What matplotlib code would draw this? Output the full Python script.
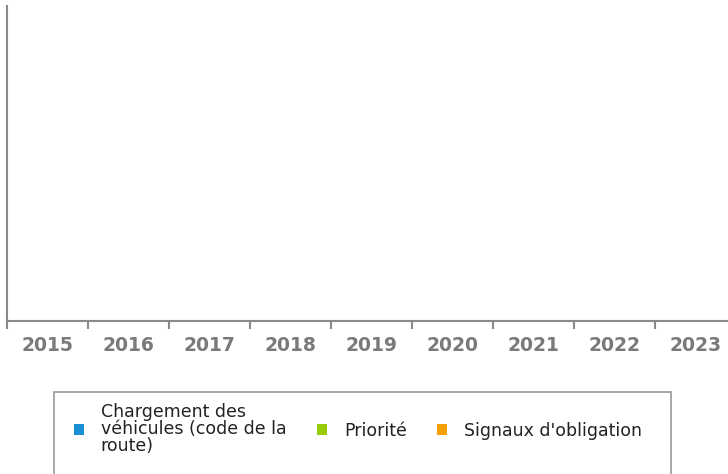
import matplotlib
matplotlib.use('Agg')
import matplotlib.pyplot as plt
from matplotlib.patches import Rectangle
import numpy as np

plt.rcParams['font.family'] = ['DejaVu Sans']

years = ['2015', '2016', '2017', '2018', '2019', '2020', '2021', '2022', '2023']
series_names = ['Chargement des\nvéhicules (code de la\nroute)', 'Priorité', "Signaux d'obligation"]
series_colors = ['#1a8fd6', '#99cc00', '#f5a000']
# no data recorded for any year
chargement = [0, 0, 0, 0, 0, 0, 0, 0, 0]
priorite = [0, 0, 0, 0, 0, 0, 0, 0, 0]
signaux = [0, 0, 0, 0, 0, 0, 0, 0, 0]

W, H = 728, 474
fig = plt.figure(figsize=(W / 100, H / 100), dpi=100)
ax = fig.add_axes([7 / W, 1 - 321 / H, (736 - 7) / W, (321 - 6) / H])

x = np.arange(len(years))
bottom = np.zeros(len(years))
handles = []
for vals, name, col in zip([chargement, priorite, signaux], series_names, series_colors):
    b = ax.bar(x, vals, bottom=bottom, width=0.6, color=col, label=name, linewidth=0)
    bottom += np.array(vals)
    handles.append(b)

ax.set_xlim(-0.5, len(years) - 0.5)
ax.set_ylim(0, 1)
ax.set_yticks([])

spine_col = '#8a8a8a'
for s in ['top', 'right']:
    ax.spines[s].set_visible(False)
for s in ['left', 'bottom']:
    ax.spines[s].set_color(spine_col)
    ax.spines[s].set_linewidth(1.5)

# ticks at category boundaries, labels centred in each band
ax.set_xticks(np.arange(len(years) + 1) - 0.5)
ax.set_xticklabels([])
ax.tick_params(axis='x', which='major', length=6, width=1.5, color=spine_col, direction='out')
ax.set_xticks(x, minor=True)
ax.set_xticklabels(years, minor=True, fontsize=13.5, fontweight='bold', color='#7a7a7a')
ax.tick_params(axis='x', which='minor', length=0, pad=10.5)

# legend box
fig.patches.append(Rectangle((54 / W, 1 - 492 / H), (671 - 54) / W, 100 / H,
                             transform=fig.transFigure, facecolor='white',
                             edgecolor='#999999', linewidth=1.2))
leg = fig.legend(handles=handles, labels=series_names, loc='center left',
                 bbox_to_anchor=(58 / W, 1 - 429 / H), ncol=3, frameon=False,
                 fontsize=12.5, handlelength=0.58, handleheight=0.58,
                 handletextpad=0.98, columnspacing=1.75, labelcolor='#222222')
for t in leg.get_texts():
    t.set_linespacing(0.91)

fig.savefig('out.png', dpi=100)
